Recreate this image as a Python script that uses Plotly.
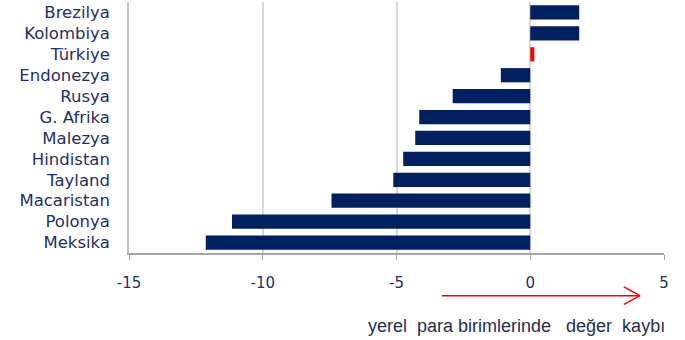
import plotly.graph_objects as go

countries = ["Brezilya", "Kolombiya", "Türkiye", "Endonezya", "Rusya", "G. Afrika",
             "Malezya", "Hindistan", "Tayland", "Macaristan", "Polonya", "Meksika"]
values = [1.83, 1.83, 0.15, -1.1, -2.9, -4.15, -4.3, -4.75, -5.12, -7.43, -11.15, -12.13]
bar_colors = ["#FF0000" if c == "Türkiye" else "#002060" for c in countries]
tick_vals = [-15, -10, -5, 0, 5]
tick_text = ["-15", "-10", "-5", "0", "5"]
note = "yerel  para birimlerinde   değer  kaybı"
arrow_x = [-3.3, 4.1]

navy = "#1F2F5E"

fig = go.Figure(go.Bar(
    y=countries, x=values, orientation="h",
    marker=dict(color=bar_colors, line=dict(width=0)),
    width=0.68,
))

fig.update_layout(
    width=685, height=340,
    margin=dict(l=129, r=21, t=2, b=87),
    paper_bgcolor="white", plot_bgcolor="white",
    showlegend=False,
    font=dict(family="DejaVu Sans", color=navy),
    xaxis=dict(range=[-15, 5], tickvals=tick_vals, ticktext=tick_text,
               showgrid=True, gridcolor="#D9D9D9", gridwidth=1.5,
               zeroline=False, showline=True, linecolor="#A6A6A6", linewidth=1.5,
               ticks="outside", ticklen=5, tickcolor="#A6A6A6",
               tickfont=dict(size=15, color=navy), ticklabelstandoff=10),
    yaxis=dict(categoryorder="array", categoryarray=countries[::-1],
               showline=True, linecolor="#BFBFBF", linewidth=1.5,
               showgrid=False, ticks="", ticklabelstandoff=14,
               tickfont=dict(size=16.5, color=navy)),
)

y_arrow = -0.17
fig.add_shape(type="line", xref="x", yref="paper", x0=arrow_x[0], x1=arrow_x[1],
              y0=y_arrow, y1=y_arrow, line=dict(color="#FF0000", width=1.5))
fig.add_shape(type="line", xref="x", yref="paper", x0=arrow_x[1] - 0.6, x1=arrow_x[1],
              y0=y_arrow + 0.035, y1=y_arrow, line=dict(color="#FF0000", width=1.5))
fig.add_shape(type="line", xref="x", yref="paper", x0=arrow_x[1] - 0.6, x1=arrow_x[1],
              y0=y_arrow - 0.035, y1=y_arrow, line=dict(color="#FF0000", width=1.5))

fig.add_annotation(text=note, xref="paper", yref="paper", x=1.005, y=-0.29,
                   xanchor="right", yanchor="middle", showarrow=False,
                   font=dict(family="Liberation Sans", size=18, color="#1F2F4E"))

fig.write_html("out.html")
